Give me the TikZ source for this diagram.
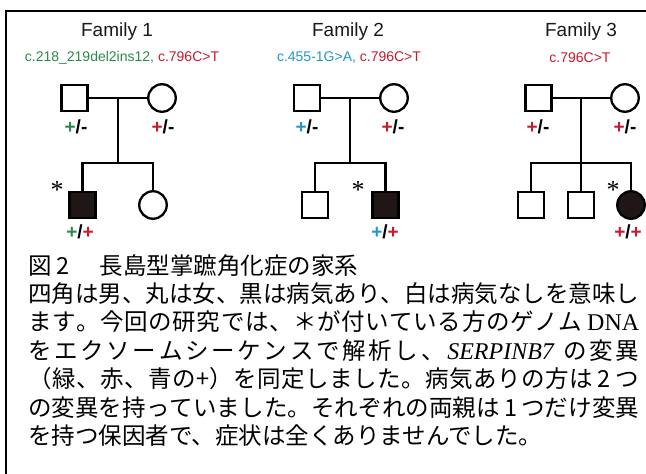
\documentclass[tikz,border=0pt]{standalone}
\usepackage{fontspec}
\setmainfont{Liberation Sans}
\newfontfamily\jp{Noto Sans CJK JP}
\newfontfamily\tnr{Liberation Serif}
\definecolor{mgreen}{RGB}{40,140,70}
\definecolor{mred}{RGB}{200,25,45}
\definecolor{mblue}{RGB}{35,150,205}
\definecolor{affblack}{RGB}{32,22,22}
\definecolor{ink}{RGB}{25,25,25}
\def\spreadline#1{\makebox[611pt][s]{\sprA#1\relax}}
\def\sprA#1{#1\sprB}
\def\sprB#1{\ifx\relax#1\else\hfil#1\expandafter\sprB\fi}
\def\sps{\hspace{4pt}}
\def\DNA{{\tnr\fontsize{24}{28}\selectfont DNA}}
\def\SERP{{\tnr\itshape\fontsize{24}{28}\selectfont SERPINB7}}
\begin{document}
\begin{tikzpicture}[x=1pt,y=-1pt,
  male/.style={draw=black, line width=2.3pt, fill=white, rectangle, minimum size=26pt, inner sep=0pt, outer sep=0pt},
  female/.style={draw=black, line width=2.3pt, fill=white, circle, minimum size=27.5pt, inner sep=0pt, outer sep=0pt},
  affected/.style={fill=affblack},
  pline/.style={line width=2.3pt, draw=black},
  famtitle/.style={font=\fontsize{19}{22}\selectfont, text=ink, inner sep=0pt},
  mut/.style={font=\fontsize{14}{16}\selectfont, inner sep=0pt},
  geno/.style={font=\bfseries\fontsize{19}{20}\selectfont, inner sep=0pt},
  star/.style={font=\tnr\fontsize{26}{26}\selectfont, inner sep=0pt},
  jpline/.style={anchor=base west, inner sep=0pt, font=\jp\fontsize{23.5}{28}\selectfont}
]
\useasboundingbox (0,0) rectangle (646,474);
\fill[white] (0,0) rectangle (646,474);
\coordinate (frTR) at (646,10.5);
\coordinate (frBL) at (6,474);
\draw[line width=2pt] (frTR) -| (frBL);

% ---------- Family 1 ----------
\node[famtitle] (t1) at (117,32) {Family 1};
\node[mut] (m1) at (122,58) {\textcolor{mgreen}{c.218\_219del2ins12,} \textcolor{mred}{c.796C>T}};
\node[male] (f1fa) at (74.5,98) {};
\node[female] (f1mo) at (162,98) {};
\draw[pline] (f1fa.east) -- (f1mo.west);
\coordinate (f1mid) at (118,98);
\coordinate (f1sib) at (118,163);
\node[male,affected] (f1c1) at (82.5,205) {};
\node[female] (f1c2) at (153,205) {};
\draw[pline] (f1mid) -- (f1sib);
\draw[pline] (f1c1.north) |- (f1sib) -| (f1c2.north);
\node[geno] (g1fa) at (76,127) {\textcolor{mgreen}{+}/-};
\node[geno] (g1mo) at (163,127) {\textcolor{mred}{+}/-};
\node[geno] (g1c1) at (80,232) {\textcolor{mgreen}{+}/\textcolor{mred}{+}};
\node[star] (s1) at (57,190) {*};

% ---------- Family 2 ----------
\node[famtitle] (t2) at (348,32) {Family 2};
\node[mut] (m2) at (349,58) {\textcolor{mblue}{c.455-1G>A,} \textcolor{mred}{c.796C>T}};
\node[male] (f2fa) at (307,98) {};
\node[female] (f2mo) at (394,98) {};
\draw[pline] (f2fa.east) -- (f2mo.west);
\coordinate (f2mid) at (350,98);
\coordinate (f2sib) at (350,163);
\node[male] (f2c1) at (315,205) {};
\node[male,affected] (f2c2) at (385.5,205) {};
\draw[pline] (f2mid) -- (f2sib);
\draw[pline] (f2c1.north) |- (f2sib) -| (f2c2.north);
\node[geno] (g2fa) at (307,127) {\textcolor{mblue}{+}/-};
\node[geno] (g2mo) at (393,127) {\textcolor{mred}{+}/-};
\node[geno] (g2c2) at (385,232) {\textcolor{mblue}{+}/\textcolor{mred}{+}};
\node[star] (s2) at (358,190) {*};

% ---------- Family 3 ----------
\node[famtitle] (t3) at (581,32) {Family 3};
\node[mut] (m3) at (580,58) {\textcolor{mred}{c.796C>T}};
\node[male] (f3fa) at (538.5,98) {};
\node[female] (f3mo) at (625,98) {};
\draw[pline] (f3fa.east) -- (f3mo.west);
\coordinate (f3mid) at (581,98);
\coordinate (f3sib) at (581,163);
\node[male] (f3c1) at (531,205) {};
\node[male] (f3c2) at (581,205) {};
\node[female,affected] (f3c3) at (631,205) {};
\draw[pline] (f3mid) -- (f3sib);
\draw[pline] (f3c1.north) |- (f3sib) -| (f3c3.north);
\draw[pline] (f3sib) -- (f3c2.north);
\node[geno] (g3fa) at (538,127) {\textcolor{mred}{+}/-};
\node[geno] (g3mo) at (625,127) {\textcolor{mred}{+}/-};
\node[geno] (g3c3) at (628,232) {\textcolor{mred}{+}/\textcolor{mred}{+}};
\node[star] (s3) at (613,190) {*};

% ---------- caption ----------
\node[jpline] (l1) at (28,274) {図\hspace{5pt}2\hspace{30pt}長島型掌蹠角化症の家系};
\node[jpline] (l2) at (28,302.4) {\spreadline{四角は男、丸は女、黒は病気あり、白は病気なしを意味し}};
\node[jpline] (l3) at (28,330.8) {\spreadline{ます。今回の研究では、＊が付いている方のゲノム\sps\DNA}};
\node[jpline] (l4) at (28,359.2) {\spreadline{をエクソームシーケンスで解析し、\SERP\sps の変異}};
\node[jpline] (l5) at (28,387.6) {\spreadline{（緑、赤、青の+）を同定しました。病気ありの方は\sps2\sps つ}};
\node[jpline] (l6) at (28,416) {\spreadline{の変異を持っていました。それぞれの両親は\sps1\sps つだけ変異}};
\node[jpline] (l7) at (28,444.4) {を持つ保因者で、症状は全くありませんでした。};
\end{tikzpicture}
\end{document}
